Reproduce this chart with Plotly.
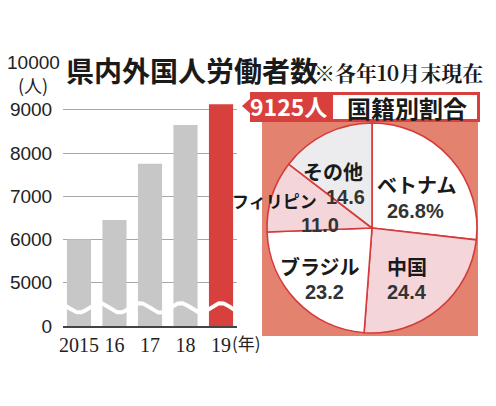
import numpy as np
import plotly.graph_objects as go

# ---- data ----
years = ["2015", "16", "17", "18", "19"]
workers = [6000, 6450, 7750, 8650, 9125]
nations = ["ベトナム", "中国", "ブラジル", "フィリピン", "その他"]
shares = [26.8, 24.4, 23.2, 11.0, 14.6]
share_labels = ["26.8%", "24.4", "23.2", "11.0", "14.6"]
ytick_vals = [4000, 5000, 6000, 7000, 8000, 9000]
ytick_text = ["0", "5000", "6000", "7000", "8000", "9000"]

W, H = 496, 406
def px(x): return x / W
def py(y): return 1 - y / H

GRAY = "#c7c7c7"
RED = "#d8403d"
SALMON = "#e2826f"
PINK = "#f3d5da"
LIGHT = "#ececef"
LINE_RED = "#d63a3a"
JP = "Noto Sans CJK JP"
NUM = "Liberation Sans"

fig = go.Figure()

bar_colors = [GRAY] * (len(years) - 1) + [RED]
fig.add_trace(go.Bar(
    x=list(range(len(years))), y=workers, marker_color=bar_colors,
    marker_line_width=0, width=0.68, hoverinfo="skip", showlegend=False,
))

# wavy break mark across the bars (decoration)
wx = np.linspace(-0.45, 4.45, 400)
wy = 4420 - 110 * np.cos(2 * np.pi * wx / 1.143)
fig.add_trace(go.Scatter(x=wx, y=wy, mode="lines", line=dict(color="white", width=4),
                         hoverinfo="skip", showlegend=False))

# pie
fig.add_trace(go.Pie(
    labels=nations, values=shares, sort=False, direction="clockwise", rotation=0,
    marker=dict(colors=["white", PINK, "white", PINK, LIGHT],
                line=dict(color=LINE_RED, width=1.6)),
    textinfo="none", hoverinfo="skip", showlegend=False,
    domain=dict(x=[px(267), px(477)], y=[py(333), py(123)]),
))

fig.update_layout(
    width=W, height=H, margin=dict(l=0, r=0, t=0, b=0),
    paper_bgcolor="white", plot_bgcolor="white", bargap=0.3,
    xaxis=dict(domain=[px(63), px(237)], range=[-0.45, 4.45],
               tickvals=list(range(len(years))), ticktext=years,
               tickfont=dict(family="Liberation Serif", size=20, color="#222"),
               showgrid=False, zeroline=False, showline=True, linecolor="#444",
               linewidth=1.5, ticks="", automargin=False, fixedrange=True),
    yaxis=dict(domain=[py(326), py(66.5)], range=[4000, 10000],
               tickvals=ytick_vals, ticktext=ytick_text,
               tickfont=dict(family="Liberation Sans", size=19, color="#222"),
               showgrid=True, gridcolor="#a8a8a8", gridwidth=1, zeroline=False,
               ticks="outside", ticklen=6, tickcolor="rgba(0,0,0,0)",
               automargin=False, fixedrange=True),
)

shapes = [
    dict(type="rect", xref="paper", yref="paper", x0=px(262), x1=px(478), y0=py(336), y1=py(121),
         fillcolor=SALMON, line_width=0, layer="below"),
    dict(type="rect", xref="paper", yref="paper", x0=px(250), x1=px(480), y0=py(122), y1=py(92),
         fillcolor=RED, line_width=0, layer="below"),
    dict(type="rect", xref="paper", yref="paper", x0=px(333), x1=px(477), y0=py(119), y1=py(95),
         fillcolor="white", line_width=0, layer="below"),
    dict(type="path", xref="paper", yref="paper",
         path=f"M {px(242)},{py(106)} L {px(251)},{py(98)} L {px(251)},{py(114)} Z",
         fillcolor=RED, line_width=0, layer="below"),
]
fig.update_layout(shapes=shapes)

ann = []
def A(text, x, y, size, color="#1a1a1a", family=JP, xanchor="center", bold=False, align="center"):
    ann.append(dict(text=text, x=px(x), y=py(y), xref="paper", yref="paper", showarrow=False,
                    xanchor=xanchor, yanchor="middle", align=align,
                    font=dict(family=family, size=size, color=color,
                              weight="bold" if bold else "normal")))

A("県内外国人労働者数", 64, 70, 28, xanchor="left", bold=True)
A("※各年10月末現在", 312, 72, 21, family="Noto Serif CJK JP, Liberation Serif, serif",
  xanchor="left", bold=True)
A("10000", 33, 63, 19, family="Liberation Sans", color="#222")
A("(人)", 33, 85, 18, color="#222")
A("(年)", 230, 342, 17, color="#222", xanchor="left")
A("9125人", 288, 106, 23, color="white", bold=True)
A("国籍別割合", 407, 107, 24, bold=True)

# pie labels: name, then share
A(nations[0], 416, 185, 20, bold=True)
A(share_labels[0], 415, 211, 20, family=NUM, bold=True, color="#333")
A(nations[1], 407, 266, 20, bold=True)
A(share_labels[1], 407, 292, 20, family=NUM, bold=True, color="#333")
A(nations[2], 320, 266, 20, bold=True)
A(share_labels[2], 324, 292, 20, family=NUM, bold=True, color="#333")
A(nations[3], 274, 200, 17, bold=True)
A(share_labels[3], 320, 225, 20, family=NUM, bold=True, color="#333")
A(nations[4], 365, 171, 20, bold=True, xanchor="right")
A(share_labels[4], 367, 197, 20, family=NUM, bold=True, color="#333", xanchor="right")
fig.update_layout(annotations=ann)

fig.write_html("out.html", config={"displayModeBar": False},
               post_script="document.body.style.margin='0';")
